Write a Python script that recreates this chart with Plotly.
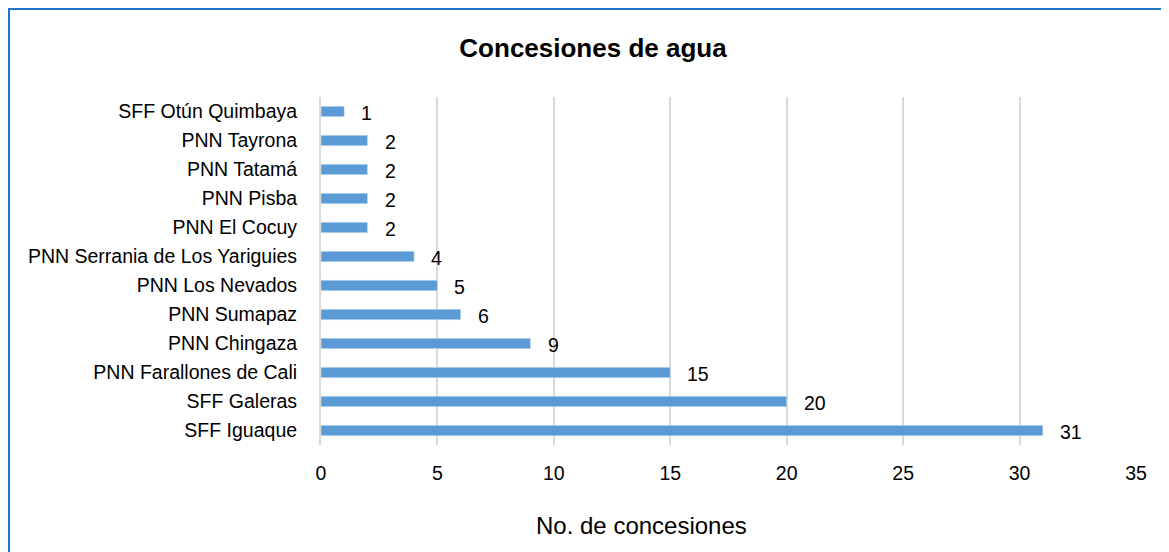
import plotly.graph_objects as go

categories = ["SFF Iguaque", "SFF Galeras", "PNN Farallones de Cali", "PNN Chingaza",
              "PNN Sumapaz", "PNN Los Nevados", "PNN Serrania de Los Yariguies",
              "PNN El Cocuy", "PNN Pisba", "PNN Tatamá", "PNN Tayrona", "SFF Otún Quimbaya"]
values = [31, 20, 15, 9, 6, 5, 4, 2, 2, 2, 2, 1]
x_ticks = [0, 5, 10, 15, 20, 25, 30, 35]

# page has an 8px body margin, so the figure is sized to fill the rest of the window
W, H = 1161, 544
L, R, T, B = 313, 33, 89, 107
pw, ph = W - L - R, H - T - B

font = "Liberation Sans, Arial, sans-serif"
fs = 19.5
fig = go.Figure(go.Bar(
    x=values, y=categories, orientation="h",
    marker=dict(color="#5B9BD5"), width=0.36,
))
for v, c in zip(values, categories):
    fig.add_annotation(x=v, y=c, text=str(v), showarrow=False, xanchor="left",
                       xshift=15, yshift=-1, font=dict(size=fs, color="#000", family=font))

fig.add_annotation(xref="paper", yref="paper", x=(633 - L) / pw, y=-(517 - T - ph) / ph,
                   text="No. de concesiones", showarrow=False, xanchor="center", yanchor="middle",
                   font=dict(size=24, family=font, color="#000"))

fig.update_layout(
    width=W, height=H,
    margin=dict(l=L, r=R, t=T, b=B),
    plot_bgcolor="white", paper_bgcolor="white",
    showlegend=False,
    font=dict(family=font, size=fs, color="#000"),
    title=dict(text="<b>Concesiones de agua</b>", x=585 / W, xanchor="center",
               y=1 - 40 / H, yanchor="middle", font=dict(size=26, family=font, color="#000")),
    xaxis=dict(range=[0, 35], tickvals=x_ticks, showgrid=True, gridcolor="#D9D9D9", gridwidth=2,
               zeroline=False, showline=False, ticks="", ticklabelstandoff=14,
               tickfont=dict(size=fs)),
    yaxis=dict(range=[-0.5, 11.5], showgrid=False, zeroline=False, ticks="", ticklabelstandoff=18,
               tickfont=dict(size=fs), showline=True, linecolor="#D9D9D9", linewidth=2),
)
fig.add_shape(type="rect", xref="paper", yref="paper",
              x0=(1 - L) / pw, x1=(W + 20 - L) / pw,
              y0=-(H + 20 - T - ph) / ph, y1=(H - B - 1) / ph,
              line=dict(color="#1F77C8", width=2), fillcolor="rgba(0,0,0,0)", layer="below")
fig.write_html("out.html")
